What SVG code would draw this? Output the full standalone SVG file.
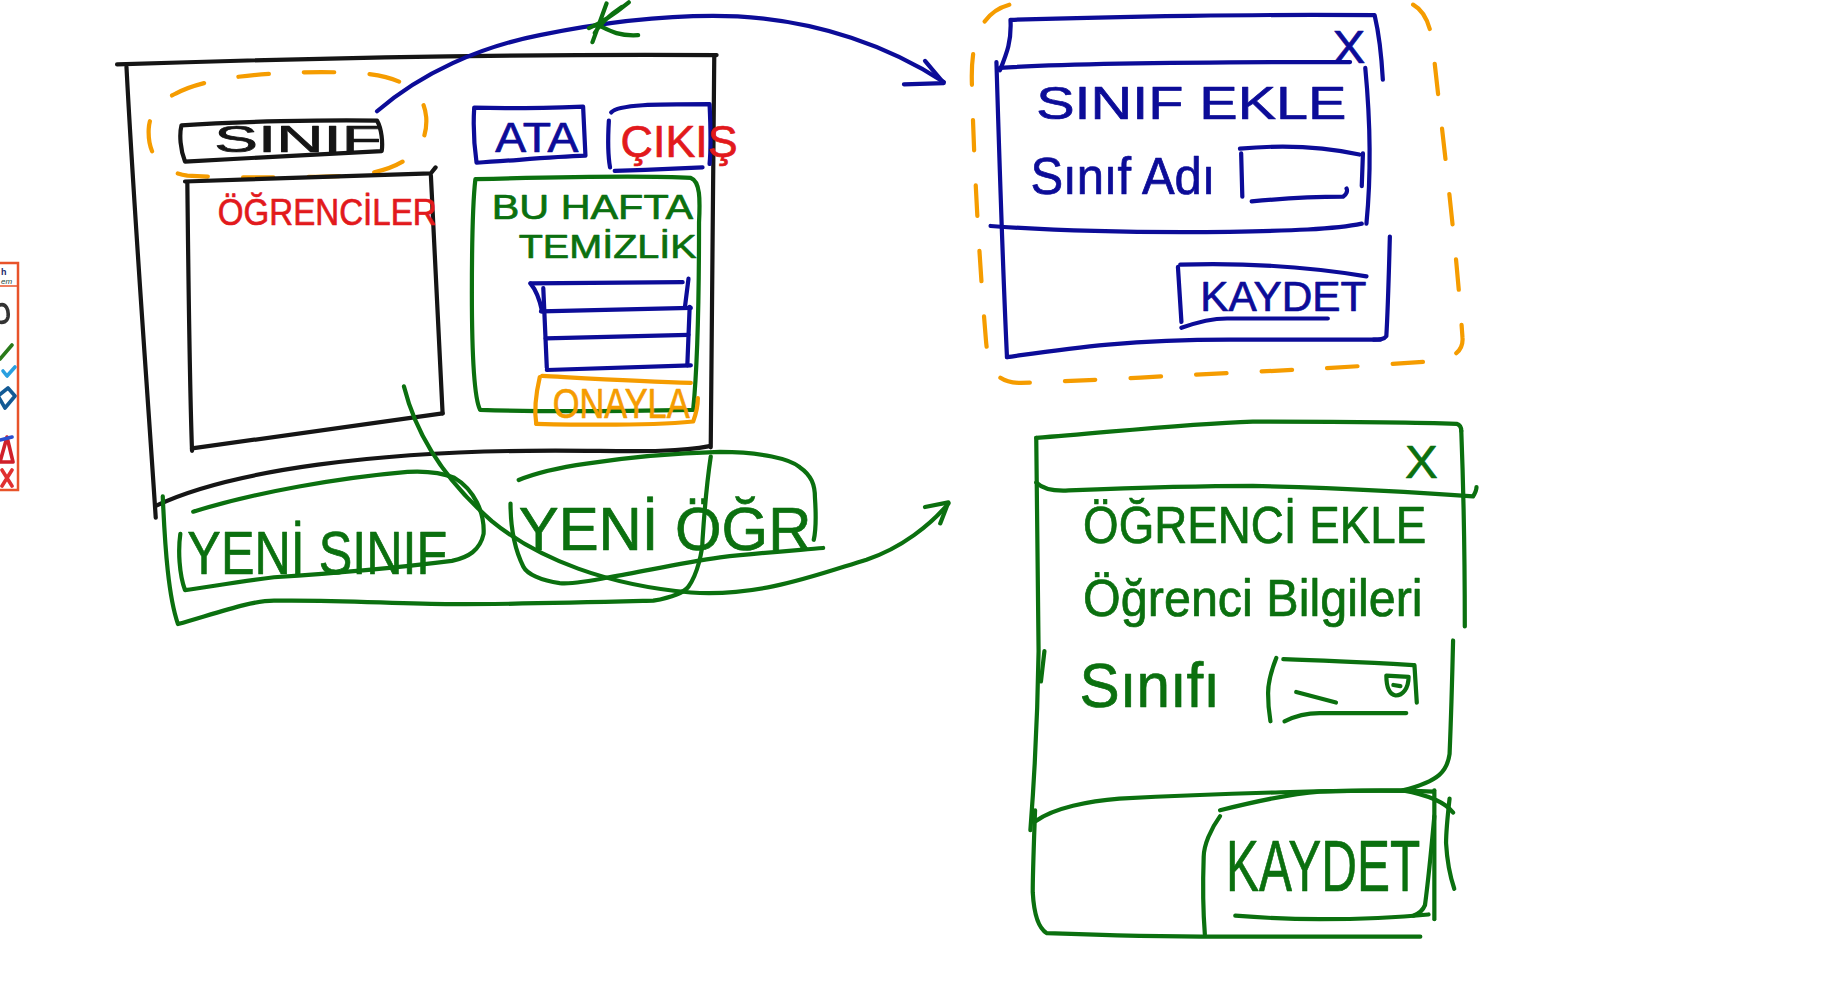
<svg xmlns="http://www.w3.org/2000/svg" width="1836" height="983" viewBox="0 0 1836 983">
<style>
path{fill:none;stroke-width:3.6;stroke-linecap:round;stroke-linejoin:round}
.k{stroke:#151515}.b{stroke:#0c0c98}.g{stroke:#0b700f}.r{stroke:#e2191c}.o{stroke:#f59c00}
.dash{stroke-dasharray:26 30}
text{font-family:"Liberation Sans","DejaVu Sans",sans-serif;stroke-width:0.6;stroke-linejoin:round}
.tk{fill:#151515;stroke:#151515}.tb{fill:#0c0c98;stroke:#0c0c98}.tg{fill:#0b700f;stroke:#0b700f}.tr{fill:#e2191c;stroke:#e2191c}.to{fill:#f59c00;stroke:#f59c00}
</style>
<rect x="0" y="0" width="1836" height="983" fill="#ffffff"/>

<g id="toolbar">
<rect x="-6" y="263" width="24" height="227" fill="#ffffff" stroke="#e8532a" stroke-width="2.5"/>
<line x1="-6" y1="286" x2="18" y2="286" stroke="#e8532a" stroke-width="1.5"/>
<text x="1" y="275" font-size="9" font-weight="bold" fill="#1c2a6b" style="stroke:none">h</text>
<text x="1" y="284" font-size="8" font-style="italic" fill="#1c4a3b" style="stroke:none">em</text>
<path d="M0,305 C6,303 9,310 8,317 C7,322 3,323 -1,322" stroke="#333" stroke-width="1.2"/>
<path d="M0,359 L12,345" stroke="#2a7a1a" stroke-width="4"/>
<path d="M3,371 L7,376 L15,367" stroke="#2aa0e0" stroke-width="2"/>
<path d="M-2,396 L8,388 L15,396 L5,408 Z" fill="#1e7fc8" stroke="#135a95" stroke-width="1"/>
<path d="M0,462 L7,437 L13,462 Z" stroke="#d0202a" stroke-width="1.8"/>
<path d="M0,440 L12,437" stroke="#2a50d0" stroke-width="2"/>
<path d="M2,470 L12,486 M12,470 L2,486" stroke="#e03030" stroke-width="1.6"/>
</g>

<g transform="scale(1.1709)">

<g id="main-window">
<path class="k" d="M100,55 C250,50 450,46 612,47"/>
<path class="k" d="M108,57 C115,190 125,320 133,442"/>
<path class="k" d="M610,49 C609,150 608,280 607,382"/>
<path class="k" d="M133,432 C200,400 330,386 450,385 C520,384 570,388 606,381"/>
</g>

<g id="sinif-highlight">
<path class="o dash" d="M150,80 C175,66 230,60 300,62 C345,64 362,78 364,100 C366,128 345,146 300,150 C250,152 195,152 160,150 C135,146 126,130 127,110 C128,95 137,86 150,80 Z"/>
</g>

<g id="btn-sinif">
<path class="k" d="M155,107 C200,104 280,102 322,103 C326,110 327,122 326,129 C270,132 210,135 158,138 C154,128 153,115 155,107 Z"/>
<text class="tk" x="183" y="130" font-size="32" textLength="143" lengthAdjust="spacingAndGlyphs">SINIF</text>
</g>

<g id="ogrenciler-list">
<path class="k" d="M158,155 C230,152 300,150 368,148 L372,143"/>
<path class="k" d="M160,156 C161,250 162,330 164,385"/>
<path class="k" d="M368,150 C372,230 376,300 378,353"/>
<path class="k" d="M164,383 C240,372 310,362 378,353"/>
<text class="tr" x="186" y="192" font-size="32" textLength="187" lengthAdjust="spacingAndGlyphs">ÖĞRENCİLER</text>
</g>

<g id="btn-ata">
<path class="b" d="M405,92 C440,93 470,92 498,91 L500,133 C470,134 440,137 407,139 C405,125 404,108 405,92 Z"/>
<text class="tb" x="423" y="130" font-size="36" textLength="71" lengthAdjust="spacingAndGlyphs">ATA</text>
</g>

<g id="btn-cikis">
<path class="b" d="M522,96 C528,89 560,89 606,89 C607,110 607,130 606,140"/>
<path class="b" d="M520,103 C519,120 519,132 521,143"/>
<path class="b" d="M525,146 C550,145 580,144 600,143"/>
<text class="tr" x="530" y="134" font-size="38" textLength="100" lengthAdjust="spacingAndGlyphs">ÇIKIŞ</text>
</g>

<g id="bu-hafta-panel">
<path class="g" d="M406,153 C480,151 560,150 590,152 C598,155 598,170 597,190 C597,250 596,310 592,350 C540,351 470,352 410,350 C405,340 403,300 403,250 C403,200 404,170 406,153 Z"/>
<text class="tg" x="420" y="187" font-size="30" textLength="172" lengthAdjust="spacingAndGlyphs">BU HAFTA</text>
<text class="tg" x="443" y="220" font-size="29" textLength="152" lengthAdjust="spacingAndGlyphs">TEMİZLİK</text>
</g>

<g id="table">
<path class="b" d="M453,242 L583,241"/>
<path class="b" d="M588,238 L585,262"/>
<path class="b" d="M453,242 C458,248 461,256 463,266"/>
<path class="b" d="M464,246 L467,314"/>
<path class="b" d="M462,266 L590,263"/>
<path class="b" d="M466,289 L588,286"/>
<path class="b" d="M467,316 L590,312"/>
<path class="b" d="M589,262 L587,312"/>
</g>

<g id="btn-onayla">
<path class="o" d="M463,321 C500,323 550,326 590,327"/>
<path class="o" d="M461,322 C458,335 456,350 458,362"/>
<path class="o" d="M458,362 C500,363 550,364 592,360 C595,352 596,345 596,340"/>
<text class="to" x="472" y="357" font-size="36" textLength="117" lengthAdjust="spacingAndGlyphs">ONAYLA</text>
</g>

<g id="bottom-buttons">
<path class="g" d="M139,424 C141,470 144,510 152,533 C190,522 215,513 234,513 C290,512 340,516 386,516 C450,516 520,514 558,513 C575,510 585,505 588,501 C596,490 600,470 600,461 C602,430 604,410 607,390"/>
</g>

<g id="btn-yeni-sinif">
<path class="g" d="M165,437 C220,420 290,408 348,403 C365,402 378,404 388,408 C405,418 414,438 413,456 C410,470 400,476 386,479 C330,486 280,490 234,493 C200,497 175,502 158,504 C153,490 152,470 154,456"/>
<text class="tg" x="160" y="490" font-size="52" textLength="222" lengthAdjust="spacingAndGlyphs">YENİ SINIF</text>
</g>

<g id="btn-yeni-ogr">
<path class="g" d="M443,410 C460,403 480,399 501,396 C540,390 580,387 615,386 C650,386 675,392 683,399 C693,406 696,414 696,425 C697,440 697,452 695,461"/>
<path class="g" d="M703,468 C680,470 650,472 615,476 C580,481 550,488 520,493 C500,497 488,499 478,498 C462,496 450,490 447,484 C440,470 436,450 436,430"/>
<text class="tg" x="443" y="470" font-size="52" textLength="250" lengthAdjust="spacingAndGlyphs">YENİ ÖĞR</text>
</g>

<g id="dialog-sinif-ekle">
<path class="o dash" d="M862,4 C840,10 829,30 830,70 C832,150 837,230 842,290 C844,315 850,327 872,327 C930,325 1000,321 1060,318 C1130,315 1190,311 1228,308 C1244,305 1250,298 1249,288 C1243,200 1230,100 1224,42 C1222,20 1216,8 1205,3"/>
<path class="b" d="M854,60 C860,45 864,35 863,17 C950,14 1080,12 1174,13 C1178,30 1180,50 1181,68"/>
<path class="b" d="M854,58 C900,55 991,53 1153,53"/>
<text class="tb" x="1138" y="54" font-size="40" textLength="28" lengthAdjust="spacingAndGlyphs">X</text>
<path class="b" d="M851,53 C853,120 856,220 860,305"/>
<path class="b" d="M1166,58 C1170,100 1171,150 1167,191"/>
<path class="b" d="M846,193 C900,197 960,199 1050,198 C1100,197 1140,196 1163,191"/>
<path class="b" d="M1187,202 C1186,240 1185,270 1184,287 C1182,290 1178,290 1173,290"/>
<path class="b" d="M860,305 C910,298 960,290 1050,290 C1110,290 1160,290 1179,290"/>
<text class="tb" x="885" y="102" font-size="40" textLength="265" lengthAdjust="spacingAndGlyphs">SINIF EKLE</text>
<text class="tb" x="880" y="166" font-size="44" textLength="158" lengthAdjust="spacingAndGlyphs">Sınıf Adı</text>
<path class="b" d="M1059,127 C1080,125 1120,123 1161,132"/>
<path class="b" d="M1060,131 L1061,168"/>
<path class="b" d="M1069,172 C1100,169 1130,168 1147,168 C1150,166 1151,163 1150,161"/>
<path class="b" d="M1164,131 L1163,159"/>
<path class="b" d="M1008,226 C1040,225 1100,225 1167,236"/>
<path class="b" d="M1006,228 L1009,275"/>
<path class="b" d="M1009,280 C1020,276 1035,272 1048,272 L1134,272"/>
<text class="tb" x="1025" y="266" font-size="36" textLength="142" lengthAdjust="spacingAndGlyphs">KAYDET</text>
</g>

<g id="dialog-ogrenci-ekle">
<path class="g" d="M885,374 C950,369 1010,362 1070,360 C1150,360 1220,361 1244,362 C1247,363 1248,366 1248,368"/>
<path class="g" d="M885,374 C886,450 887,520 887,556 C886,620 883,670 880,709"/>
<path class="g" d="M892,556 L889,582"/>
<path class="g" d="M885,412 C890,417 900,419 908,419 C960,417 1010,415 1070,415 C1150,417 1220,421 1258,424 C1260,421 1261,418 1261,416"/>
<text class="tg" x="1200" y="408" font-size="40" textLength="28" lengthAdjust="spacingAndGlyphs">X</text>
<path class="g" d="M1248,368 C1250,420 1251,480 1251,535"/>
<path class="g" d="M1241,547 C1240,590 1239,620 1238,644 C1236,658 1230,667 1198,675"/>
<path class="g" d="M885,701 C900,690 930,684 956,682 C1050,677 1150,675 1198,675 C1220,679 1235,686 1241,694"/>
<path class="g" d="M884,692 C883,720 882,745 882,762 C883,780 887,793 894,797 C950,799 1000,800 1042,800 C1100,800 1170,800 1213,800"/>
<path class="g" d="M1225,675 L1225,785"/>
<path class="g" d="M1238,682 C1236,700 1235,712 1235,720 C1236,738 1239,750 1242,759"/>
<text class="tg" x="925" y="464" font-size="44" textLength="293" lengthAdjust="spacingAndGlyphs">ÖĞRENCİ EKLE</text>
<text class="tg" x="925" y="526" font-size="44" textLength="290" lengthAdjust="spacingAndGlyphs">Öğrenci Bilgileri</text>
<text class="tg" x="922" y="604" font-size="54" textLength="120" lengthAdjust="spacingAndGlyphs">Sınıfı</text>
<path class="g" d="M1096,563 C1130,564 1170,566 1207,568"/>
<path class="g" d="M1090,562 C1086,572 1083,582 1083,592 C1083,602 1084,610 1085,616"/>
<path class="g" d="M1097,616 C1105,612 1115,609 1127,609 L1201,609"/>
<path class="g" d="M1208,568 L1210,600"/>
<path class="g" d="M1107,591 L1141,600"/>
<path class="g" d="M1184,577 L1203,578 C1203,588 1198,594 1192,594 C1186,593 1184,586 1184,577 Z M1190,585 L1196,586"/>
<path class="g" d="M1042,697 C1034,708 1028,722 1028,732 C1027,760 1028,785 1029,798"/>
<path class="g" d="M1042,692 C1070,685 1100,678 1127,676 C1160,675 1200,675 1224,676"/>
<path class="g" d="M1225,697 C1222,730 1219,758 1217,773 C1215,778 1210,781 1207,782"/>
<path class="g" d="M1055,782 C1080,784 1100,785 1127,785 C1160,785 1200,783 1220,781"/>
<text class="tg" x="1047" y="761" font-size="62" textLength="166" lengthAdjust="spacingAndGlyphs">KAYDET</text>
</g>

<g id="connectors">
<path class="b" d="M322,95 C360,62 410,40 461,30 C520,18 580,12 630,14 C700,18 760,40 806,70"/>
<path class="b" d="M772,72 L806,71 L790,52"/>
<path class="g" d="M345,330 C355,370 380,410 420,445 C460,478 520,500 590,506 C650,510 700,490 740,478 C770,468 795,448 810,430"/>
<path class="g" d="M790,433 L810,429 L803,447"/>
<path class="g" stroke-width="2.8" d="M506,36 L518,3 M503,24 C515,19 526,11 537,2 M508,28 C514,18 522,12 531,6 M512,22 C520,26 528,31 545,30"/>
</g>

</g>
</svg>
